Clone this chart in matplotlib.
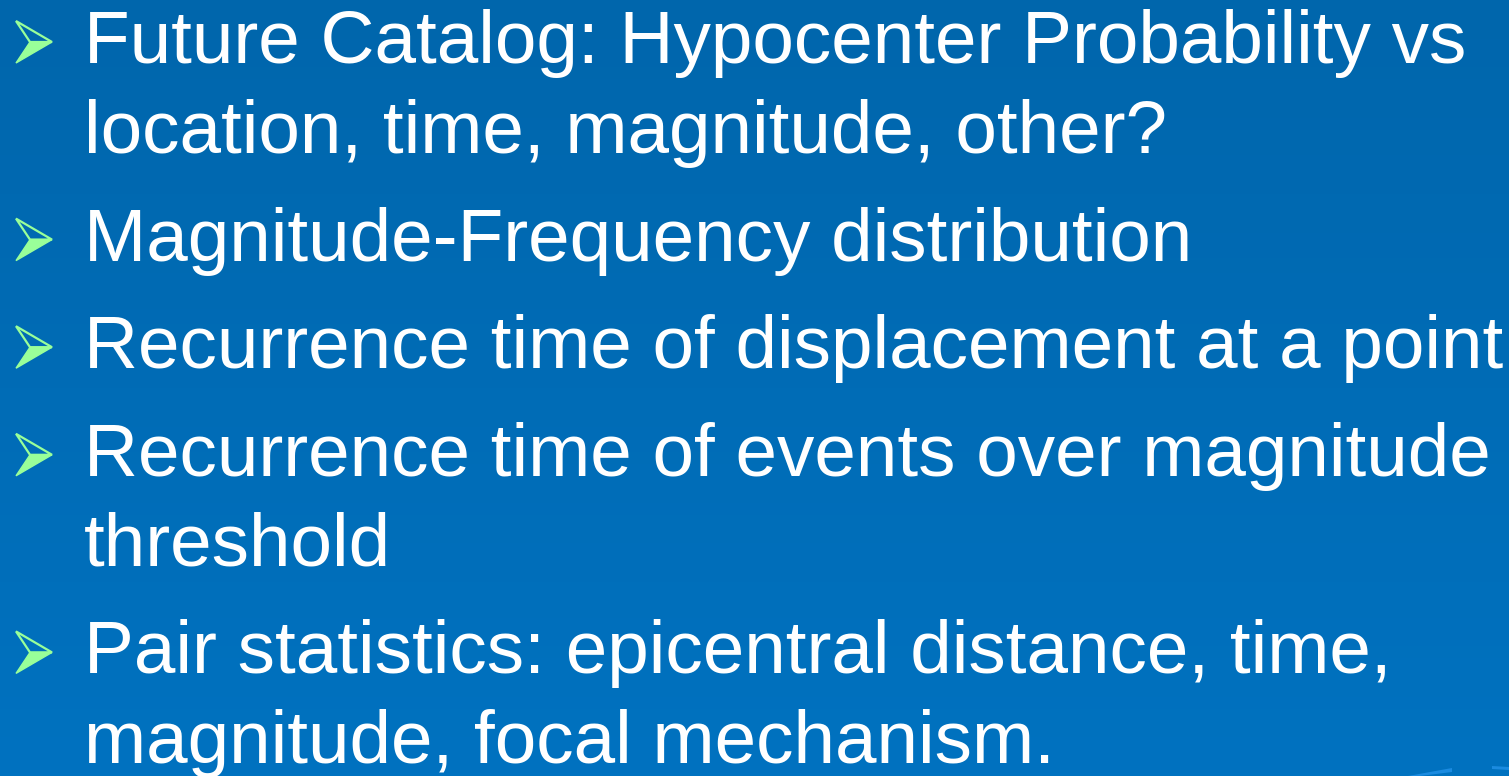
import numpy as np
import matplotlib
matplotlib.use("Agg")
import matplotlib.pyplot as plt
from matplotlib.patches import Polygon

# 幻灯片文字：每个条目可能有多行
bullets = [
    ["Future Catalog: Hypocenter Probability vs",
     "location, time, magnitude, other?"],
    ["Magnitude-Frequency distribution"],
    ["Recurrence time of displacement at a point"],
    ["Recurrence time of events over magnitude",
     "threshold"],
    ["Pair statistics: epicentral distance, time,",
     "magnitude, focal mechanism."],
]

W, H = 1509, 776
fig = plt.figure(figsize=(W / 100, H / 100), dpi=100)
ax = fig.add_axes([0, 0, 1, 1])
ax.set_xlim(0, W)
ax.set_ylim(H, 0)
ax.axis('off')

# 背景渐变
top = np.array([0x00, 0x66, 0xAC]) / 255
bottom = np.array([0x00, 0x72, 0xC0]) / 255
t = np.linspace(0, 1, 256)[:, None, None]
grad = top + (bottom - top) * t
grad = np.repeat(grad, 2, axis=1)
ax.imshow(grad, extent=[0, W, H, 0], aspect='auto', zorder=0)

# 右下角的浅色装饰条
ax.fill([1408, 1452, 1452, 1420], [776, 768, 772, 776], color='#1b8be0', lw=0, zorder=1)
ax.fill([1492, 1509, 1509, 1492], [766, 767, 770, 769], color='#1b8be0', lw=0, zorder=1)

line_gap = 90
para_gap = 107.6
fs = 53.8
green = '#99ff99'

y = 63
for item in bullets:
    # 箭头符号
    cy = y - 21
    ax.add_patch(Polygon([(30, cy), (52, cy), (16, cy + 21)], closed=True,
                         fc=green, ec=green, lw=1, zorder=3))
    ax.add_patch(Polygon([(16, cy - 21), (52, cy), (30, cy)], closed=True,
                         fc='none', ec=green, lw=1.6, zorder=3))
    for i, line in enumerate(item):
        ax.text(84, y, line, fontsize=fs, color='white',
                family=['Liberation Sans', 'DejaVu Sans'],
                va='baseline', ha='left', zorder=4)
        if i < len(item) - 1:
            y += line_gap
    y += para_gap

fig.savefig('out.png', dpi=100)
